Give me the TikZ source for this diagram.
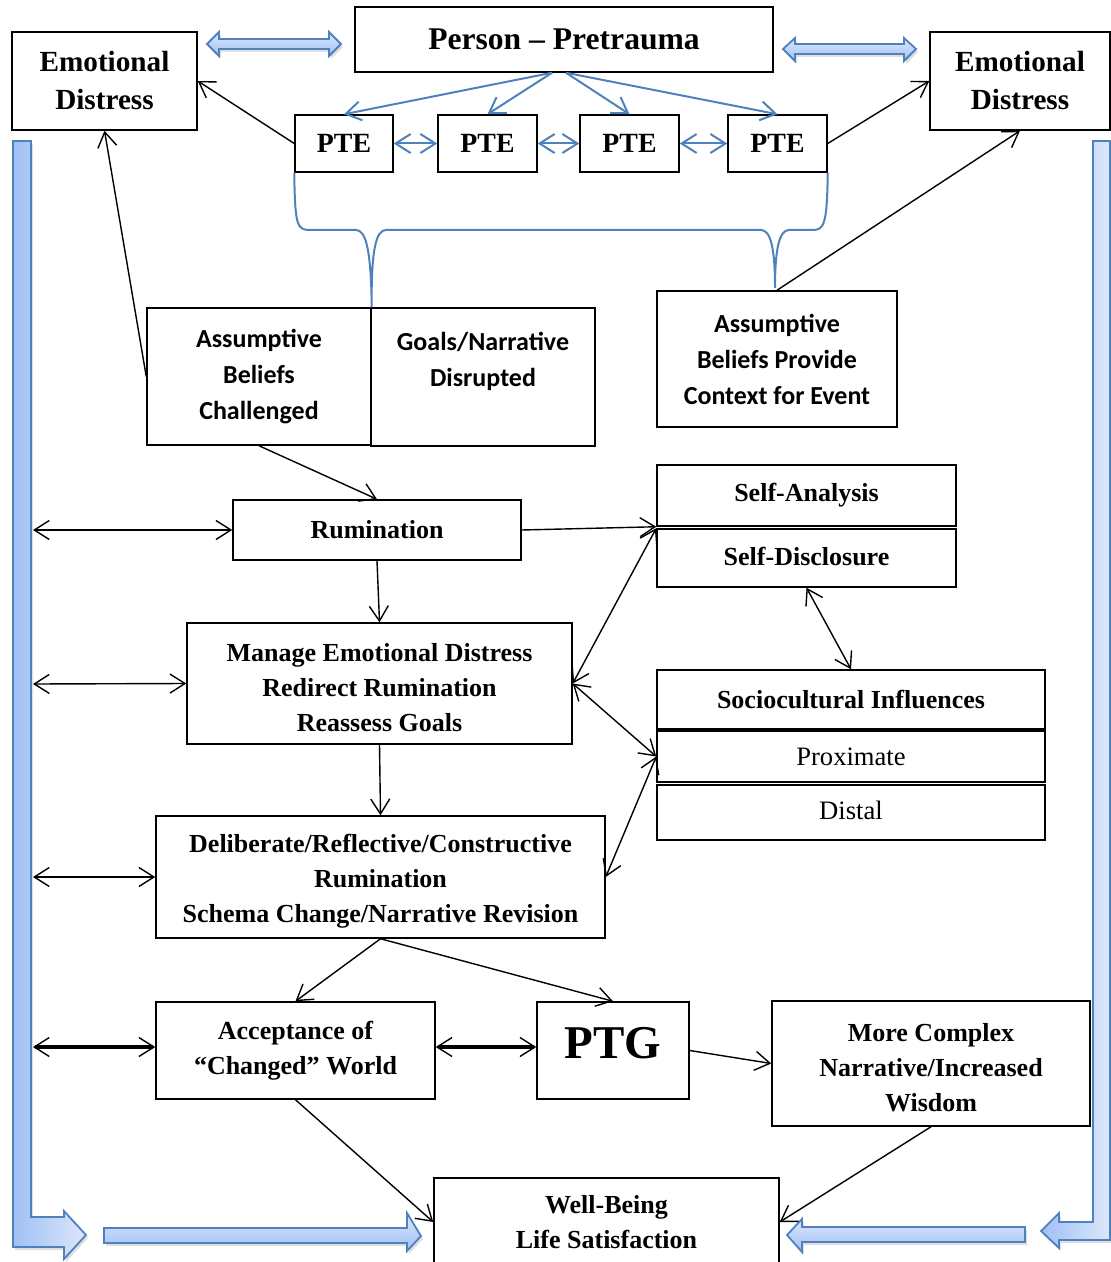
\documentclass[tikz,border=0pt]{standalone}
\usepackage{fontspec}
\setmainfont{Liberation Serif}
\newfontfamily\calfont{Carlito}
\usepackage{xcolor}
\usetikzlibrary{arrows.meta,calc,shadows}
\definecolor{lineBlue}{RGB}{79,129,189}
\definecolor{blockA}{RGB}{160,192,244}
\definecolor{blockB}{RGB}{220,231,251}
\newcommand{\topstrut}{\rule{0pt}{13pt}}
\tikzset{%
  wh/.style 2 args={minimum width=#1*0.5pt, minimum height=#2*0.5pt},
  box/.style={draw, line width=0.75pt, inner sep=0pt, align=center,
    font=\bfseries\fontsize{13}{17.5}\selectfont},
  calbox/.style={box, font=\calfont\bfseries\fontsize{13}{18}\selectfont},
  onearr/.style={-{Straight Barb[length=7.5pt,width=9.5pt]}},
  twoarr/.style={{Straight Barb[length=7.5pt,width=9.5pt]}-{Straight Barb[length=7.5pt,width=9.5pt]}},
  thickarr/.style={{Straight Barb[length=7.5pt,width=9.5pt,line width=0.7pt]}-{Straight Barb[length=7.5pt,width=9.5pt,line width=0.7pt]}, line width=1.6pt},
  conn/.style={line width=0.7pt},
  blueconn/.style={draw=lineBlue, line width=1pt},
  block/.style={draw=lineBlue, line width=0.9pt, top color=blockB, bottom color=blockA,
    drop shadow={opacity=0.25, shadow xshift=1pt, shadow yshift=-1.5pt}},
  vblock/.style={block, left color=blockA, right color=blockB}
}
\begin{document}
\begin{tikzpicture}[x=0.5pt,y=-0.5pt]
\useasboundingbox (0,0) rectangle (1111,1262);

% big block arrows
\path[block] (207,44) -- (219,32) -- (219,39) -- (329,39) -- (329,32) -- (341,44)
  -- (329,56) -- (329,49) -- (219,49) -- (219,56) -- cycle;
\path[block] (783,49) -- (795,38) -- (795,44) -- (904,44) -- (904,38) -- (916,49)
  -- (904,61) -- (904,54) -- (795,54) -- (795,61) -- cycle;
\path[vblock] (13,141) -- (31,141) -- (31,1217) -- (64,1217) -- (64,1211) -- (86,1235)
  -- (64,1259) -- (64,1247) -- (13,1247) -- cycle;
\path[block] (104,1228) -- (407,1228) -- (407,1213) -- (421,1236) -- (407,1251)
  -- (407,1243) -- (104,1243) -- cycle;
\path[vblock] (1093,141) -- (1110,141) -- (1110,1240) -- (1059,1240) -- (1059,1248)
  -- (1041,1231) -- (1059,1213) -- (1059,1222) -- (1093,1222) -- cycle;
\path[block] (1025,1227) -- (802,1227) -- (802,1219) -- (787,1235) -- (802,1252)
  -- (802,1242) -- (1025,1242) -- cycle;

\node[box, wh={185}{98}, font=\bfseries\fontsize{14.6}{19}\selectfont] (edlNode) at (104.5,81) {Emotional\\Distress};
\node[box, wh={180}{98}, font=\bfseries\fontsize{14.6}{19}\selectfont] (edrNode) at (1020,81) {Emotional\\Distress};
\node[box, wh={418}{65}, font=\bfseries\fontsize{15.8}{19}\selectfont] (personNode) at (564,39.5) {Person -- Pretrauma};

\node[box, wh={98}{57}, font=\bfseries\fontsize{13.9}{17}\selectfont] (pteaNode) at (344,143.5) {PTE};
\node[box, wh={99}{57}, font=\bfseries\fontsize{13.9}{17}\selectfont] (ptebNode) at (487.5,143.5) {PTE};
\node[box, wh={99}{57}, font=\bfseries\fontsize{13.9}{17}\selectfont] (ptecNode) at (629.5,143.5) {PTE};
\node[box, wh={99}{57}, font=\bfseries\fontsize{13.9}{17}\selectfont] (ptedNode) at (777.5,143.5) {PTE};

\node[calbox, wh={224}{137}] (abcNode) at (259,376.5) {Assumptive\\Beliefs\\Challenged};
\node[calbox, wh={224}{138}] (goalNode) at (483,377) {Goals/Narrative\\Disrupted\\\mbox{}};
\node[calbox, wh={240}{136}] (apcNode) at (777,359) {Assumptive\\Beliefs Provide\\Context for Event};

\node[box, wh={288}{60}] (rumNode) at (377,530) {Rumination};
\node[box, wh={299}{61}] (saNode) at (806.5,495.5) {Self-Analysis};
\node[box, wh={299}{58}] (sdNode) at (806.5,558) {\raisebox{2pt}{Self-Disclosure}};
\node[box, wh={385}{121}] (manNode) at (379.5,683.5) {\topstrut Manage Emotional Distress\\Redirect Rumination\\Reassess Goals};
\node[box, wh={388}{59}] (socNode) at (851,699.5) {Sociocultural Influences};
\node[box, wh={388}{51}, font=\fontsize{13.3}{16}\selectfont] (proxNode) at (851,756.5) {Proximate};
\node[box, wh={388}{55}, font=\fontsize{13.3}{16}\selectfont] (distNode) at (851,812.5) {\raisebox{2pt}{Distal}};
\node[box, wh={449}{122}] (delNode) at (380.5,877) {\topstrut Deliberate/Reflective/Constructive\\Rumination\\Schema Change/Narrative Revision};
\node[box, wh={279}{97}] (accNode) at (295.5,1050.5) {Acceptance of\\``Changed'' World};
\node[box, wh={152}{97}, font=\bfseries\fontsize{23.5}{26}\selectfont] (ptgNode) at (613,1050.5) {\raisebox{8pt}{PTG}};
\node[box, wh={318}{125}] (mcNode) at (931,1063.5) {\topstrut More Complex\\Narrative/Increased\\Wisdom};
\node[box, wh={345}{88}] (wbNode) at (606.5,1222) {Well-Being\\Life Satisfaction};

% brace under the PTEs
\coordinate (bracelNode) at (abcNode.north east);
\coordinate (bracerNode) at (775,288);
\draw[lineBlue, line width=1pt] (pteaNode.south west) .. controls (295,226) and (297,230) .. (310,230)
  -- (356,230) .. controls (366,230) and (371,250) .. (bracelNode)
  .. controls (371,250) and (376,230) .. (386,230) -- (761,230)
  .. controls (771,230) and (775,250) .. (bracerNode)
  .. controls (775,250) and (779,230) .. (789,230) -- (812,230)
  .. controls (824,230) and (827,226) .. (ptedNode.south east);

% blue arrows
\draw[blueconn, onearr] ($(personNode.south)+(-12,0)$) -- (pteaNode.north);
\draw[blueconn, onearr] ($(personNode.south)+(-12,0)$) -- (ptebNode.north);
\draw[blueconn, onearr] ($(personNode.south)+(2,0)$) -- (ptecNode.north);
\draw[blueconn, onearr] ($(personNode.south)+(2,0)$) -- (ptedNode.north);
\draw[blueconn, twoarr] (pteaNode.east) -- (ptebNode.west);
\draw[blueconn, twoarr] (ptebNode.east) -- (ptecNode.west);
\draw[blueconn, twoarr] (ptecNode.east) -- (ptedNode.west);

% black arrows
\draw[conn, onearr] (pteaNode.west) -- (edlNode.east);
\draw[conn, onearr] (ptedNode.east) -- (edrNode.west);
\draw[conn, onearr] (abcNode.west) -- (edlNode.south);
\draw[conn, onearr] (apcNode.north) -- (edrNode.south);
\draw[conn, onearr] (abcNode.south) -- (rumNode.north);
\draw[conn, onearr] (rumNode.east) -- (saNode.south west);
\draw[conn, onearr] (rumNode.south) -- (manNode.north);
\draw[conn, twoarr] (manNode.east) -- (sdNode.north west);
\draw[conn, twoarr] (sdNode.south) -- (socNode.north);
\draw[conn, twoarr] (manNode.east) -- (proxNode.west);
\draw[conn, twoarr] (delNode.east) -- (proxNode.west);
\draw[conn, onearr] (manNode.south) -- (delNode.north);
\draw[conn, onearr] (delNode.south) -- (accNode.north);
\draw[conn, onearr] (delNode.south) -- (ptgNode.north);
\draw[conn, onearr] (ptgNode.east) -- (mcNode.west);
\draw[conn, onearr] (accNode.south) -- (wbNode.west);
\draw[conn, onearr] (mcNode.south) -- (wbNode.east);

% arrows from the left bar
\coordinate (lrumNode) at (33,530);
\coordinate (lmanNode) at (33,684);
\coordinate (ldelNode) at (33,877);
\coordinate (laccNode) at (33,1047);
\draw[conn, twoarr] (lrumNode) -- (rumNode.west);
\draw[conn, twoarr] (lmanNode) -- (manNode.west);
\draw[conn, twoarr] (ldelNode) -- (delNode.west);
\draw[thickarr] (laccNode) -- (accNode.west |- laccNode);
\draw[thickarr] (accNode.east |- laccNode) -- (ptgNode.west |- laccNode);
\end{tikzpicture}
\end{document}
